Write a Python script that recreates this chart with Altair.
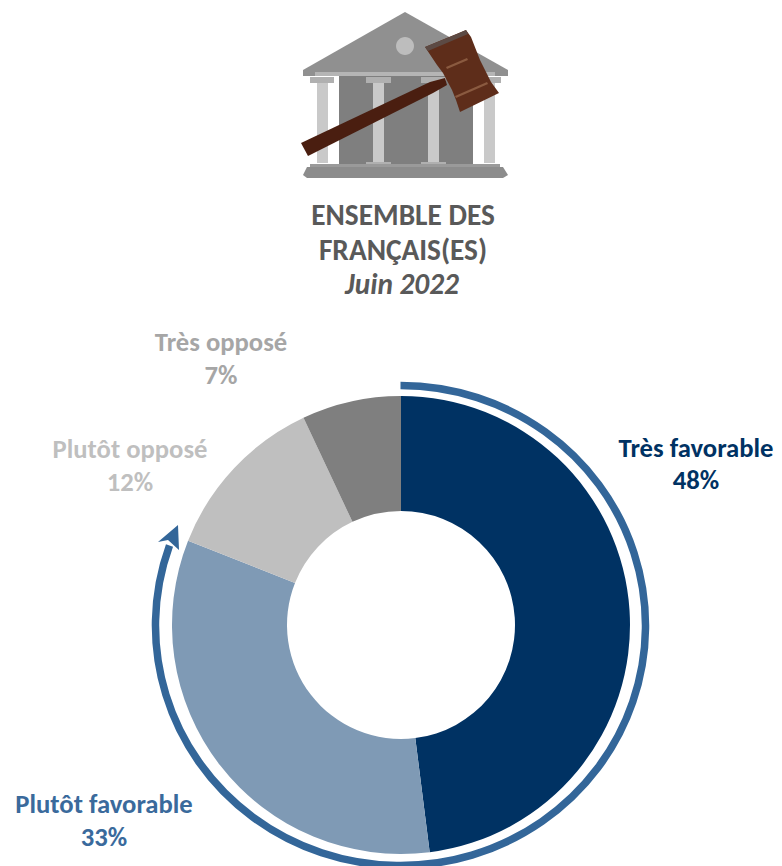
import altair as alt
import pandas as pd

# ---- data ----
categories = ["Très favorable", "Plutôt favorable", "Plutôt opposé", "Très opposé"]
values = [48, 33, 12, 7]
slice_colors = ["#003263", "#7f9ab5", "#bfbfbf", "#7f7f7f"]
label_colors = ["#003263", "#3a6a9c", "#bfbfbf", "#a6a6a6"]
title_lines = ["ENSEMBLE DES", "FRANÇAIS(ES)"]
subtitle = "Juin 2022"

FONT = "Carlito, Calibri, Lato"
OX, OY = 8, 8  # page margin
W, H = 766, 858
one = pd.DataFrame({"a": [0]})

starts, ends, c = [], [], 0
for v in values:
    starts.append(c)
    c += v
    ends.append(c)
df = pd.DataFrame({"cat": categories, "start": starts, "end": ends, "color": slice_colors})

layers = []

# donut
layers.append(
    alt.Chart(df).mark_arc(radius=229, radius2=114, stroke=None).encode(
        x=alt.value(401 - OX),
        y=alt.value(625 - OY),
        theta=alt.Theta("start:Q", scale=alt.Scale(domain=[0, 100], range=[0, 6.283185307])),
        theta2="end:Q",
        color=alt.Color("color:N", scale=None),
    )
)


def shape(path, ax, ay, **kw):
    return alt.Chart(one).mark_point(shape=path, size=4, opacity=1, **kw).encode(
        x=alt.value(ax - OX), y=alt.value(ay - OY)
    )


# bracket arrow around the favourable share
RCX, RCY = 400.5, 625.5
layers.append(shape("M 0 -240 A 245 240 0 1 1 -231 -80", RCX, RCY, filled=False, stroke="#336699", strokeWidth=7.5))
layers.append(shape("M -222.5 -100.5 L -242.5 -83.5 L -232.5 -85.5 L -221.5 -75.5 Z", RCX, RCY, filled=True, fill="#336699", strokeWidth=0))

# pictogram
ICX, ICY = 405, 95


def poly(points):
    return "M " + " L ".join(f"{x - ICX} {y - ICY}" for x, y in points) + " Z"


def rect(x0, y0, x1, y1):
    return poly([(x0, y0), (x1, y0), (x1, y1), (x0, y1)])


icon = [
    (rect(339, 76, 473, 166), "#7f7f7f"),
    (rect(317, 80, 328, 163), "#c9c9c9"),
    (rect(373, 80, 384, 163), "#c9c9c9"),
    (rect(428, 80, 439, 163), "#c9c9c9"),
    (rect(484, 80, 495, 163), "#c9c9c9"),
    (rect(310, 77, 334, 83), "#b0b0b0"),
    (rect(366, 77, 391, 83), "#b0b0b0"),
    (rect(421, 77, 446, 83), "#b0b0b0"),
    (rect(477, 77, 501, 83), "#b0b0b0"),
    (poly([(405, 12), (508, 70), (508, 76), (303, 76), (303, 70)]), "#909090"),
    (rect(315, 72, 495, 76), "#b5b5b5"),
    (poly([(366, 162), (391, 162), (391, 166), (366, 166)]), "#b0b0b0"),
    (poly([(421, 162), (446, 162), (446, 166), (421, 166)]), "#b0b0b0"),
    (rect(310, 164, 500, 168), "#9a9a9a"),
    (poly([(307, 167), (503, 167), (508, 175), (503, 178), (307, 178), (303, 175)]), "#8c8c8c"),
    ("M 9 -49 A 9 9 0 1 1 -9 -49 A 9 9 0 1 1 9 -49 Z", "#bdbdbd"),
    (poly([(301, 143), (430, 82), (445, 78), (447, 85), (433, 93), (308, 156)]), "#4a1e10"),
    (poly([(425, 47), (466, 30), (471, 37), (480, 60), (491, 82), (499, 93), (460, 112),
           (456, 100), (452, 90), (443, 73), (437, 65)]), "#5e2d1a"),
    (poly([(425, 47), (457, 34), (466, 30), (468, 34), (428, 51)]), "#5c4a44"),
    (poly([(446, 67), (467, 58), (468, 60), (447, 69)]), "#8a5a40"),
    (poly([(455, 96), (487, 82), (488, 84), (456, 98)]), "#8a5a40"),
]
for path, color in icon:
    layers.append(shape(path, ICX, ICY, filled=True, fill=color, strokeWidth=0))


def text(s, cx, cy, color, size, italic=False):
    kw = {"fontStyle": "italic"} if italic else {}
    return alt.Chart(one).mark_text(
        text=s, font=FONT, fontSize=size, fontWeight="bold", color=color,
        align="center", baseline="middle", **kw
    ).encode(x=alt.value(cx - OX), y=alt.value(cy - OY))


layers.append(text(title_lines[0], 403, 216, "#595959", 29.33))
layers.append(text(title_lines[1], 403, 251, "#595959", 29.33))
layers.append(text(subtitle, 402, 285, "#595959", 29.33, italic=True))

label_pos = [(696, 449, 481), (104, 805, 838), (130, 450, 483), (221, 343, 376)]
for name, v, col, (cx, y1, y2) in zip(categories, values, label_colors, label_pos):
    layers.append(text(name, cx, y1, col, 26.67))
    layers.append(text(f"{v}%", cx, y2, col, 26.67))

chart = alt.layer(*layers).properties(
    width=W, height=H, padding=0, autosize=alt.AutoSizeParams(type="none"),
).configure_view(stroke=None)

chart.save("out.html", embed_options={"renderer": "svg", "actions": False})
